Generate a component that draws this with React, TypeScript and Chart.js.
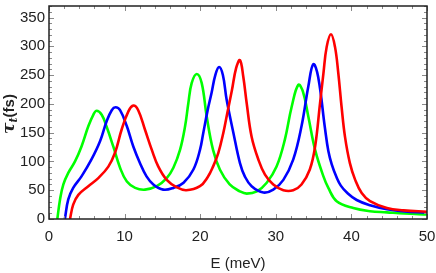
import { useEffect, useRef } from "react";
import { Chart, registerables } from "chart.js";

Chart.register(...registerables);

// Energy (meV) and transit time tau_t (fs)
const greenE = [1.1, 1.46, 1.9, 2.55, 3.44, 4.3, 5.2, 5.86, 6.3, 6.97, 7.6, 8.5, 9.4, 10.3, 11.4, 12.7, 14.25, 15.57, 16.45, 17.33, 18.0, 18.43, 18.87, 19.55, 20.2, 20.86, 21.7, 22.6, 23.9, 25.26, 26.15, 27.5, 28.8, 30.1, 31.2, 32.1, 32.98, 33.6, 34.3, 35.2, 36.3, 36.95, 38.05, 40.25, 42.46, 44.7, 47.0, 50.0];
const greenTau = [0, 34, 60, 80, 100, 126, 161, 181, 188, 181, 161, 126, 89, 65, 54, 51, 57, 71, 89, 120, 161, 201, 236, 252, 236, 178, 120, 86, 60, 48, 44, 48, 63, 91, 138, 195, 233, 221, 178, 120, 74, 54, 31, 19, 13.5, 11.5, 9.5, 8];

const blueE = [2.1, 2.55, 3.2, 4.3, 5.6, 6.75, 7.6, 8.3, 8.8, 9.4, 10.3, 11.15, 12.04, 12.9, 13.8, 15.1, 16.45, 17.8, 19.1, 19.97, 20.4, 21.0, 21.5, 22.0, 22.5, 23.0, 23.5, 24.4, 25.26, 25.9, 26.8, 28.35, 29.67, 31.0, 32.3, 33.4, 34.3, 34.96, 35.6, 36.5, 36.95, 37.4, 38.05, 38.6, 39.4, 40.7, 42.46, 44.7, 47.0, 50.0];
const blueTau = [0, 34, 54, 74, 103, 135, 169, 189, 194, 189, 161, 126, 97, 74, 60, 51, 54, 63, 86, 120, 149, 190, 219, 250, 264, 250, 207, 149, 97, 74, 57, 46, 51, 68, 103, 161, 230, 269, 247, 158, 118, 95, 72, 58, 46, 33, 24, 17, 13, 11];

const redE = [2.78, 3.2, 3.88, 5.2, 6.52, 7.85, 8.73, 9.6, 10.5, 11.15, 11.8, 12.7, 13.6, 14.46, 15.57, 16.9, 18.15, 19.97, 21.0, 21.7, 22.4, 23.05, 23.6, 24.2, 24.75, 25.26, 25.7, 26.15, 26.8, 27.7, 28.57, 29.67, 31.0, 32.3, 33.4, 34.5, 35.2, 35.85, 36.3, 36.73, 37.3, 37.83, 38.27, 38.7, 39.15, 39.8, 40.5, 41.36, 42.46, 44.7, 46.9, 50.0];
const redTau = [0, 25, 42, 57, 71, 91, 115, 155, 187, 197, 189, 155, 120, 91, 68, 55, 50, 57, 73, 91, 115, 149, 185, 224, 262, 276, 247, 201, 143, 103, 77, 60, 50, 50, 60, 86, 126, 201, 253, 299, 321, 299, 253, 195, 143, 97, 68, 45, 31, 19, 15, 12.6];

const X_MIN = 0;
const X_MAX = 50;
const Y_MIN = 0;
const Y_MAX = 370;
const X_STEP = 10;
const Y_STEP = 50;
const X_MINOR = 2;
const Y_MINOR = 10;
const Y_TICKS = [0, 50, 100, 150, 200, 250, 300, 350];

const X_TITLE = "E (meV)";
const Y_TITLE_SYMBOL = "τ";
const Y_TITLE_SUB = "t";
const Y_TITLE_UNIT = "(fs)";

const FONT = "'Liberation Sans Narrow', 'Liberation Sans', Arial, sans-serif";

function pts(xs: number[], ys: number[]) {
  return xs.map((x, i) => ({ x, y: ys[i] }));
}

const framePlugin = {
  id: "framePlugin",
  afterDraw(chart: any) {
    const { ctx, chartArea: a, scales } = chart;
    const xs = scales.x;
    const ys = scales.y;
    ctx.save();
    // inward ticks
    ctx.strokeStyle = "#8a8a8a";
    ctx.lineWidth = 1;
    ctx.beginPath();
    for (let v = X_MIN; v <= X_MAX + 1e-9; v += X_MINOR) {
      const major = Math.abs(v / X_STEP - Math.round(v / X_STEP)) < 1e-6;
      const len = major ? 5 : 3;
      const px = Math.round(xs.getPixelForValue(v)) + 0.5;
      ctx.moveTo(px, a.bottom);
      ctx.lineTo(px, a.bottom - len);
      ctx.moveTo(px, a.top);
      ctx.lineTo(px, a.top + len);
    }
    for (let v = Y_MIN; v <= Y_MAX + 1e-9; v += Y_MINOR) {
      const major = Math.abs(v / Y_STEP - Math.round(v / Y_STEP)) < 1e-6;
      const len = major ? 5 : 3;
      const py = Math.round(ys.getPixelForValue(v)) + 0.5;
      ctx.moveTo(a.left, py);
      ctx.lineTo(a.left + len, py);
      ctx.moveTo(a.right, py);
      ctx.lineTo(a.right - len, py);
    }
    ctx.stroke();
    // frame
    ctx.strokeStyle = "#222";
    ctx.lineWidth = 1.5;
    ctx.strokeRect(a.left, a.top, a.right - a.left, a.bottom - a.top);

    // y title with subscript
    ctx.fillStyle = "#222";
    ctx.translate(14, 114);
    ctx.rotate(-Math.PI / 2);
    ctx.textBaseline = "alphabetic";
    ctx.font = `bold italic 17px 'DejaVu Serif', serif`;
    const w1 = ctx.measureText(Y_TITLE_SYMBOL).width;
    ctx.font = `bold italic 11px 'DejaVu Serif', serif`;
    const w2 = ctx.measureText(Y_TITLE_SUB).width;
    ctx.font = `bold 15px ${FONT}`;
    const w3 = ctx.measureText(Y_TITLE_UNIT).width;
    let x0 = -(w1 + w2 + w3) / 2;
    ctx.font = `bold italic 17px 'DejaVu Serif', serif`;
    ctx.fillText(Y_TITLE_SYMBOL, x0, 0);
    x0 += w1;
    ctx.font = `bold italic 11px 'DejaVu Serif', serif`;
    ctx.fillText(Y_TITLE_SUB, x0, 3);
    x0 += w2;
    ctx.font = `bold 15px ${FONT}`;
    ctx.fillText(Y_TITLE_UNIT, x0, 0);
    ctx.restore();
  },
};

export default function App() {
  const ref = useRef<HTMLCanvasElement>(null);
  useEffect(() => {
    document.body.style.margin = "0";
    const canvas = ref.current!;
    const mk = (label: string, xs: number[], ys: number[], color: string) => ({
      label,
      data: pts(xs, ys),
      borderColor: color,
      backgroundColor: color,
      borderWidth: 2.6,
      pointRadius: 0,
      tension: 0.4,
      fill: false,
    });
    const chart = new Chart(canvas, {
      type: "line",
      data: {
        datasets: [
          mk("red", redE, redTau, "#ff0000"),
          mk("blue", blueE, blueTau, "#0000ff"),
          mk("green", greenE, greenTau, "#00ff00"),
        ],
      },
      options: {
        animation: false,
        responsive: false,
        devicePixelRatio: 1,
        layout: { padding: { left: 0, right: 9, top: 6, bottom: 0 } },
        plugins: { legend: { display: false }, tooltip: { enabled: false } },
        scales: {
          x: {
            type: "linear",
            min: X_MIN,
            max: X_MAX,
            grid: { display: false, drawTicks: false },
            border: { display: false },
            ticks: {
              stepSize: X_STEP,
              padding: 9,
              color: "#222",
              font: { family: FONT, size: 15 },
              maxRotation: 0,
            },
            title: {
              display: true,
              text: X_TITLE,
              color: "#222",
              font: { family: FONT, size: 15 },
              padding: { top: 4, bottom: 0 },
            },
            afterFit: (s: any) => {
              s.height = 54;
              s.paddingLeft = 0;
              s.paddingRight = 0;
            },
          },
          y: {
            type: "linear",
            min: Y_MIN,
            max: Y_MAX,
            grid: { display: false, drawTicks: false },
            border: { display: false },
            afterBuildTicks: (s: any) => {
              s.ticks = Y_TICKS.map((v) => ({ value: v }));
            },
            ticks: {
              stepSize: Y_STEP,
              padding: 4,
              color: "#222",
              font: { family: FONT, size: 15 },
            },
            afterFit: (s: any) => {
              s.width = 49;
              s.paddingTop = 0;
              s.paddingBottom = 0;
            },
          },
        },
      },
      plugins: [framePlugin],
    });
    return () => chart.destroy();
  }, []);
  return (
    <div style={{ width: 436, height: 273, background: "#fff" }}>
      <canvas ref={ref} width={436} height={273} style={{ display: "block" }} />
    </div>
  );
}
